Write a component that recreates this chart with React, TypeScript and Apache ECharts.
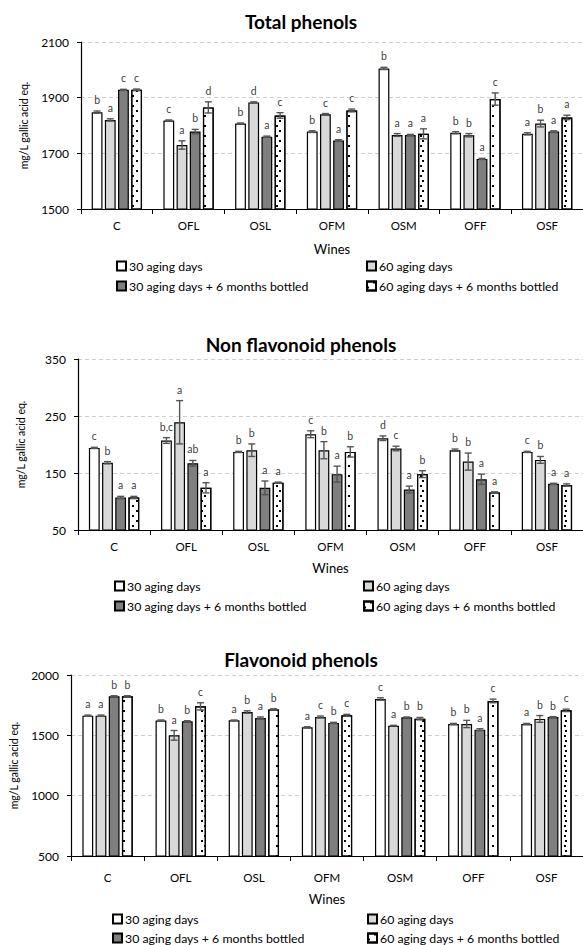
import React, { useEffect, useRef } from "react";
import * as echarts from "echarts";

const CATEGORIES = ["C", "OFL", "OSL", "OFM", "OSM", "OFF", "OSF"];
const SERIES_NAMES = [
  "30 aging days",
  "60 aging days",
  "30 aging days + 6 months bottled",
  "60 aging days + 6 months bottled",
];

// Total phenols
const TP_30 = [1848, 1818, 1807, 1778, 2005, 1774, 1770];
const TP_60 = [1820, 1730, 1883, 1840, 1766, 1765, 1807];
const TP_30B = [1928, 1778, 1760, 1746, 1766, 1680, 1778];
const TP_60B = [1928, 1865, 1836, 1854, 1770, 1895, 1829];
const TP_30_ERR = [4, 2, 2, 3, 4, 4, 4];
const TP_60_ERR = [4, 15, 2, 3, 5, 6, 12];
const TP_30B_ERR = [2, 8, 2, 3, 2, 2, 3];
const TP_60B_ERR = [3, 20, 10, 5, 18, 22, 8];
const TP_30_LET = ["b", "c", "b", "b", "b", "b", "a"];
const TP_60_LET = ["a", "a", "d", "c", "a", "b", "b"];
const TP_30B_LET = ["c", "b", "a", "a", "a", "a", "a"];
const TP_60B_LET = ["c", "d", "c", "c", "a", "c", "a"];

// Non flavonoid phenols
const NF_30 = [194, 207, 187, 218, 211, 190, 187];
const NF_60 = [168, 239, 190, 190, 193, 170, 173];
const NF_30B = [107, 167, 124, 148, 121, 139, 131];
const NF_60B = [107, 124, 133, 187, 148, 116, 129];
const NF_30_ERR = [1, 5, 1, 6, 4, 2, 1];
const NF_60_ERR = [2, 38, 11, 15, 4, 15, 6];
const NF_30B_ERR = [2, 5, 12, 14, 6, 9, 1];
const NF_60B_ERR = [2, 9, 1, 9, 6, 1, 2];
const NF_30_LET = ["c", "b,c", "b", "c", "d", "b", "c"];
const NF_60_LET = ["b", "a", "b", "b", "c", "b", "b"];
const NF_30B_LET = ["a", "ab", "a", "a", "a", "a", "a"];
const NF_60B_LET = ["a", "a", "a", "b", "b", "a", "a"];

// Flavonoid phenols
const FL_30 = [1663, 1622, 1624, 1566, 1801, 1594, 1594];
const FL_60 = [1663, 1500, 1693, 1652, 1580, 1594, 1636];
const FL_30B = [1823, 1616, 1644, 1603, 1649, 1547, 1652];
const FL_60B = [1823, 1740, 1715, 1666, 1638, 1785, 1707];
const FL_30_ERR = [5, 5, 3, 5, 10, 5, 5];
const FL_60_ERR = [5, 40, 10, 8, 3, 30, 28];
const FL_30B_ERR = [5, 5, 8, 5, 3, 8, 3];
const FL_60B_ERR = [5, 30, 5, 8, 10, 15, 10];
const FL_30_LET = ["a", "b", "a", "a", "c", "b", "a"];
const FL_60_LET = ["a", "a", "b", "c", "a", "b", "b"];
const FL_30B_LET = ["b", "b", "a", "b", "b", "a", "b"];
const FL_60B_LET = ["b", "c", "b", "c", "b", "c", "c"];

const TITLES = ["Total phenols", "Non flavonoid phenols", "Flavonoid phenols"];
const Y_TICKS = [
  { min: 1500, max: 2100, interval: 200 },
  { min: 50, max: 350, interval: 100 },
  { min: 500, max: 2000, interval: 500 },
];

const PANEL_DATA = [
  {
    values: [TP_30, TP_60, TP_30B, TP_60B],
    errs: [TP_30_ERR, TP_60_ERR, TP_30B_ERR, TP_60B_ERR],
    letters: [TP_30_LET, TP_60_LET, TP_30B_LET, TP_60B_LET],
  },
  {
    values: [NF_30, NF_60, NF_30B, NF_60B],
    errs: [NF_30_ERR, NF_60_ERR, NF_30B_ERR, NF_60B_ERR],
    letters: [NF_30_LET, NF_60_LET, NF_30B_LET, NF_60B_LET],
  },
  {
    values: [FL_30, FL_60, FL_30B, FL_60B],
    errs: [FL_30_ERR, FL_60_ERR, FL_30B_ERR, FL_60B_ERR],
    letters: [FL_30_LET, FL_60_LET, FL_30B_LET, FL_60B_LET],
  },
];

// layout (pixels)
const LAYOUT = [
  { left: 81, top: 42, height: 167, titleTop: 12, legendTop: [260, 280], nameGap: 33, labelMargin: 10, legendLeft: [116, 366] },
  { left: 78, top: 359, height: 171, titleTop: 335, legendTop: [580, 600], nameGap: 31, labelMargin: 10, legendLeft: [114, 363] },
  { left: 71, top: 675, height: 181, titleTop: 650, legendTop: [913, 932], nameGap: 36, labelMargin: 15, legendLeft: [112, 367] },
];

const FONT = "Lato, Carlito, 'Open Sans', sans-serif";
const BAR_W = 10.8;
const PITCH = BAR_W * 1.22;
const FILLS = ["#ffffff", "#d9d9d9", "#7f7f7f", "#ffffff"];

export default function App() {
  const ref = useRef<HTMLDivElement>(null);

  useEffect(() => {
    document.body.style.margin = "0";
    if (!ref.current) return;
    const chart = echarts.init(ref.current, undefined, { renderer: "svg" });

    const grid: any[] = [];
    const xAxis: any[] = [];
    const yAxis: any[] = [];
    const title: any[] = [];
    const legend: any[] = [];
    const series: any[] = [];

    PANEL_DATA.forEach((panel, p) => {
      const L = LAYOUT[p];
      grid.push({ left: L.left, right: -6, top: L.top, height: L.height });
      title.push({
        text: TITLES[p],
        left: 301,
        textAlign: "center",
        top: L.titleTop,
        padding: 0,
        textStyle: { fontFamily: FONT, fontWeight: "bold", fontSize: 19, color: "#000" },
      });
      xAxis.push({
        type: "category",
        gridIndex: p,
        data: CATEGORIES,
        name: "Wines",
        nameLocation: "middle",
        nameGap: L.nameGap,
        nameTextStyle: { fontFamily: FONT, fontSize: 13, color: "#000" },
        axisLine: { lineStyle: { color: "#000", width: 1.2 } },
        axisTick: { show: true, length: 5, lineStyle: { color: "#000" } },
        axisLabel: { fontFamily: FONT, fontSize: 11.5, color: "#000", margin: L.labelMargin },
      });
      yAxis.push({
        type: "value",
        gridIndex: p,
        min: Y_TICKS[p].min,
        max: Y_TICKS[p].max,
        interval: Y_TICKS[p].interval,
        name: "mg/L gallic acid eq.",
        nameLocation: "middle",
        nameRotate: 90,
        nameGap: 52,
        nameTextStyle: { fontFamily: FONT, fontSize: 10.5, color: "#000" },
        axisLine: { show: true, lineStyle: { color: "#000", width: 1.2 } },
        axisTick: { show: true, length: 4, lineStyle: { color: "#000" } },
        axisLabel: {
          fontFamily: FONT,
          fontSize: 12,
          color: "#000",
          margin: 12,
          formatter: (v: number) => String(v),
        },
        splitLine: { show: true, lineStyle: { color: "#cfcfcf", type: [4, 3], width: 1 } },
      });

      SERIES_NAMES.forEach((name, s) => {
        const itemStyle: any = {
          color: FILLS[s],
          borderColor: "#000",
          borderWidth: 1.2,
        };
        if (s === 3) {
          itemStyle.decal = {
            symbol: "rect",
            symbolSize: 1,
            color: "#000",
            dashArrayX: [[1.3, 9.7], [0, 5.5, 1.3, 4.2]],
            dashArrayY: [1.3, 2.4],
            rotation: 0,
          };
        }
        series.push({
          type: "bar",
          name,
          xAxisIndex: p,
          yAxisIndex: p,
          data: panel.values[s],
          barWidth: BAR_W,
          barGap: "22%",
          itemStyle,
          emphasis: { disabled: true },
        });
      });

      // error bars
      const items: any[] = [];
      for (let s = 0; s < 4; s++) {
        for (let c = 0; c < CATEGORIES.length; c++) {
          items.push({ c, s, v: panel.values[s][c], e: panel.errs[s][c] });
        }
      }
      series.push({
        type: "custom",
        xAxisIndex: p,
        yAxisIndex: p,
        silent: true,
        z: 5,
        itemStyle: { color: "#555" },
        data: items.map((it) => [it.c, it.v + it.e]),
        renderItem: (params: any, api: any) => {
          const it = items[params.dataIndex];
          const topP = api.coord([it.c, it.v + it.e]);
          const botP = api.coord([it.c, it.v - it.e]);
          const x = topP[0] + (it.s - 1.5) * PITCH;
          const st = { stroke: "#555", lineWidth: 1.4 };
          return {
            type: "group",
            children: [
              { type: "line", shape: { x1: x, y1: topP[1], x2: x, y2: botP[1] }, style: st },
              { type: "line", shape: { x1: x - 3.5, y1: topP[1], x2: x + 3.5, y2: topP[1] }, style: st },
              { type: "line", shape: { x1: x - 3.5, y1: botP[1], x2: x + 3.5, y2: botP[1] }, style: st },
            ],
          };
        },
      });

      // significance letters
      for (let s = 0; s < 4; s++) {
        series.push({
          type: "scatter",
          xAxisIndex: p,
          yAxisIndex: p,
          silent: true,
          z: 6,
          symbol: "circle",
          symbolSize: 1,
          itemStyle: { color: "rgba(0,0,0,0)" },
          data: panel.values[s].map((v, c) => [c, v + panel.errs[s][c]]),
          label: {
            show: true,
            position: "top",
            distance: 5,
            offset: [(s - 1.5) * PITCH, 0],
            color: "#000",
            fontFamily: FONT,
            fontSize: 10.5,
            formatter: (prm: any) => panel.letters[s][prm.dataIndex],
          },
        });
      }

      SERIES_NAMES.forEach((name, s) => {
        legend.push({
          data: [name],
          left: L.legendLeft[s % 2],
          top: L.legendTop[Math.floor(s / 2)],
          padding: 0,
          itemWidth: 9,
          itemHeight: 9,
          itemGap: 0,
          icon: "rect",
          selectedMode: false,
          textStyle: { fontFamily: FONT, fontSize: 12.3, color: "#000", padding: [0, 0, 0, -2] },
        });
      });
    });

    chart.setOption({
      animation: false,
      backgroundColor: "#fff",
      title,
      legend,
      grid,
      xAxis,
      yAxis,
      series,
    });

    return () => chart.dispose();
  }, []);

  return <div ref={ref} style={{ width: 583, height: 945 }} />;
}
